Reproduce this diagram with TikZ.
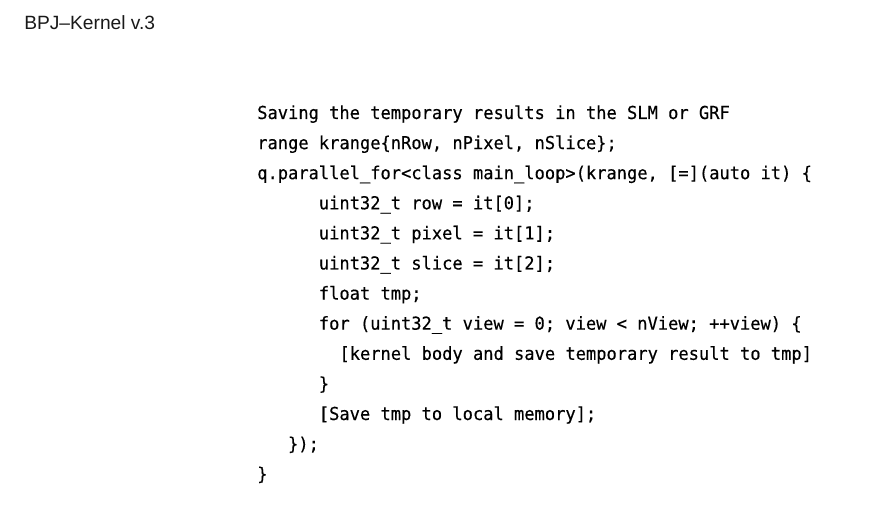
\documentclass[tikz,border=0pt]{standalone}
\usepackage{fontspec}
\setmainfont{Liberation Sans}
\newfontfamily\codefont{DejaVu Sans Mono}[FakeStretch=0.955,FakeBold=0.4]
\tikzset{
  codeline/.style={anchor=base west, inner sep=0pt, text=black,
    font=\codefont\fontsize{13.4pt}{15pt}\selectfont},
  titletext/.style={anchor=base west, inner sep=0pt, text=black!90,
    font=\fontsize{14.4pt}{17pt}\selectfont}
}
\begin{document}
\begin{tikzpicture}[x=0.75pt,y=-0.75pt]
\useasboundingbox (0,0) rectangle (885,513);
\node[titletext] (title) at (24,30) {BPJ–Kernel v.3};
\node[codeline] (l1)  at (257,119.0) {Saving the temporary results in the SLM or GRF};
\node[codeline] (l2)  at (257,149.1) {range krange\{nRow, nPixel, nSlice\};};
\node[codeline] (l3)  at (257,179.2) {q.parallel\_for<class main\_loop>(krange, [=](auto it) \{};
\node[codeline] (l4)  at (318.6,209.3) {uint32\_t row = it[0];};
\node[codeline] (l5)  at (318.6,239.4) {uint32\_t pixel = it[1];};
\node[codeline] (l6)  at (318.6,269.5) {uint32\_t slice = it[2];};
\node[codeline] (l7)  at (318.6,299.6) {float tmp;};
\node[codeline] (l8)  at (318.6,329.7) {for (uint32\_t view = 0; view < nView; ++view) \{};
\node[codeline] (l9)  at (339.2,359.8) {[kernel body and save temporary result to tmp]};
\node[codeline] (l10) at (318.6,389.9) {\}};
\node[codeline] (l11) at (318.6,420.0) {[Save tmp to local memory];};
\node[codeline] (l12) at (287.8,450.1) {\});};
\node[codeline] (l13) at (257,480.2) {\}};
\end{tikzpicture}
\end{document}
